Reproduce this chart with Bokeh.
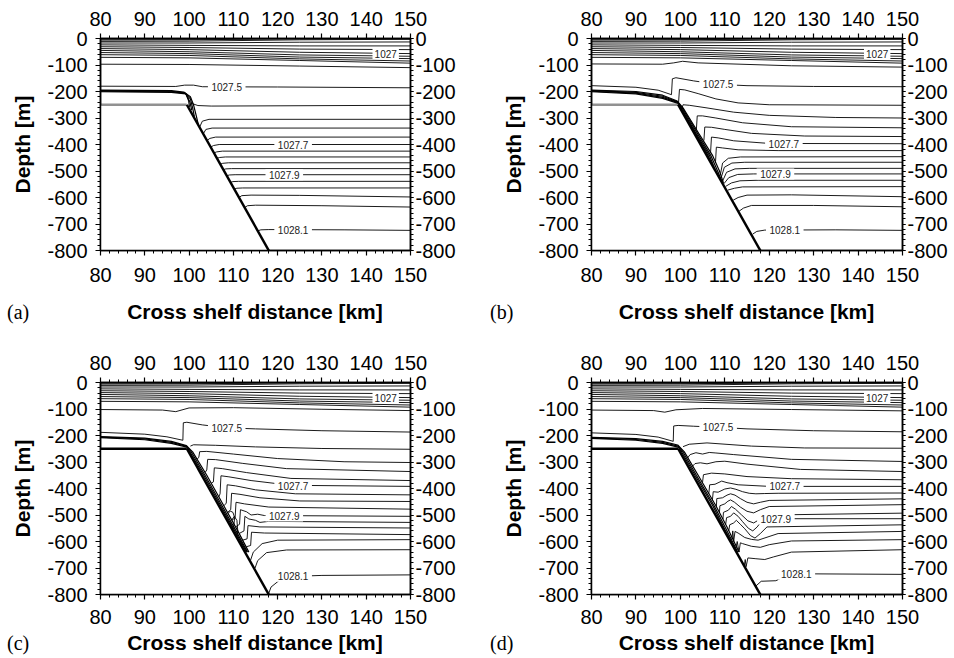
from bokeh.plotting import figure
from bokeh.models import (LinearAxis, SingleIntervalTicker, Range1d, Div, Spacer,
                          PrintfTickFormatter)
from bokeh.layouts import row, column
from bokeh.embed import file_html
from bokeh.resources import INLINE
from bokeh.core.properties import value

# ---------------- data (km, m) ----------------
SLOPE_X = [99.5, 118.0]
SLOPE_Y = [-250, -800]
SHELF_X = [80, 99.5]
SHELF_Y = [-250, -250]
GROUND_X = [80, 99.5, 118.0, 80]
GROUND_Y = [-250, -250, -800, -800]

LABEL_TEXT = ["1027", "1027.5", "1027.7", "1027.9", "1028.1"]
TAGS = ["(a)", "(b)", "(c)", "(d)"]
XLABEL = "Cross shelf distance [km]"
YLABEL = "Depth [m]"

# near-surface isopycnals (same in all panels)
SURF_LINES = [
    ([80, 100, 110, 118], [-2, -2, -1, 0]),
    ([80, 100, 125, 135], [-6, -5, -1, 0]),
    ([80, 100, 125, 150], [-11, -10, -5, -3]),
    ([80, 100, 125, 150], [-17, -17, -14, -13]),
    ([80, 100, 125, 150], [-24, -26, -28, -28]),
    ([80, 100, 125, 150], [-31, -34, -40, -42]),
    ([80, 100, 125, 150], [-38, -42, -52, -57]),
    ([80, 100, 125, 150], [-45, -50, -62, -67]),
    ([80, 100, 125, 150], [-53, -57, -70, -76]),
    ([80, 100, 125, 150], [-61, -64, -77, -85]),
    ([80, 100, 125, 150], [-71, -73, -83, -93]),
]

# ---- panel (a)
A_LINES = [
    ([80, 100, 125, 150], [-97, -98, -104, -110]),
    ([80, 97, 99, 101, 103, 120, 150], [-180, -181, -176, -176, -182, -183, -186]),
    ([100.6, 102, 105, 150], [-245, -253, -255, -252]),
    ([102.36, 103.0, 104.5, 150], [-335, -312, -305, -305]),
    ([103.20, 103.8, 105.2, 150], [-360, -343, -338, -338]),
    ([104.04, 104.7, 106.0, 150], [-385, -377, -372, -372]),
    ([104.88, 105.5, 106.8, 150], [-410, -404, -400, -400]),
    ([105.62, 106.2, 107.5, 150], [-432, -428, -425, -425]),
    ([106.30, 106.9, 108.2, 150], [-452, -449, -447, -447]),
    ([107.04, 107.6, 108.9, 150], [-474, -471, -469, -469]),
    ([107.74, 108.3, 109.6, 150], [-495, -492, -491, -491]),
    ([108.52, 109.1, 110.4, 150], [-518, -515, -514, -514]),
    ([109.36, 109.9, 111.2, 150], [-543, -540, -539, -539]),
    ([110.20, 110.8, 112.1, 150], [-568, -565, -564, -564]),
    ([111.27, 111.9, 114, 125, 150], [-600, -593, -591, -592, -598]),
    ([112.55, 113.2, 115, 130, 150], [-638, -631, -629, -631, -636]),
    ([115.51, 116.2, 118, 135, 150], [-726, -722, -721, -722, -724]),
]
A_BUNDLE = [
    ([80, 96, 98.8, 100.3, 101.0, 101.6, 102.1], [-195, -197, -202, -220, -250, -290, -325]),
    ([80, 96, 99.0, 100.3, 100.8, 101.2], [-197, -199, -205, -228, -262, -295]),
    ([80, 96, 99.2, 100.2, 100.6], [-199, -201, -207, -240, -270]),
    ([80, 96, 99.3, 99.9, 100.1], [-201, -203, -209, -235, -258]),
]
A_LAB_X = [144.4, 108.5, 123.5, 121.5, 123.5]
A_LAB_Y = [-57, -182, -400, -514, -724]

# ---- panel (b)
B_LINES = [
    ([80, 96, 98.5, 100.5, 104, 125, 150], [-96, -97, -92, -86, -92, -103, -108]),
    ([80, 90, 95, 98.0, 98.2, 99.0, 103, 108.5, 115, 130, 150], [-178, -184, -195, -212, -152, -148, -160, -173, -178, -181, -182]),
    ([99.6, 99.8, 101, 104, 108, 113, 120, 150], [-240, -192, -194, -208, -228, -243, -250, -252]),
    ([100.4, 100.6, 102, 106, 112, 120, 135, 150], [-262, -250, -252, -262, -278, -290, -298, -300]),
    ([103.6, 103.8, 105, 108, 114, 125, 150], [-345, -292, -292, -300, -318, -333, -337]),
    ([105.3, 105.5, 107, 110, 116, 128, 150], [-385, -334, -335, -343, -358, -368, -370]),
    ([106.8, 107.0, 108.5, 112, 120, 150], [-430, -372, -375, -386, -396, -397]),
    ([107.9, 108.1, 109.5, 113, 122, 150], [-470, -410, -413, -420, -423, -423]),
    ([109.0, 109.5, 110.8, 113.5, 150], [-515, -470, -452, -447, -446]),
    ([109.2, 109.9, 111.6, 114.5, 150], [-525, -486, -470, -467, -467]),
    ([109.5, 110.4, 112.3, 115.5, 150], [-538, -505, -492, -490, -490]),
    ([109.8, 110.9, 112.9, 116.5, 150], [-548, -525, -513, -511, -511]),
    ([110.2, 111.5, 113.4, 117.5, 150], [-558, -545, -537, -535, -535]),
    ([110.7, 112.2, 114, 150], [-572, -565, -560, -559]),
    ([111.9, 113, 115, 125, 150], [-610, -600, -591, -590, -597]),
    ([113.2, 114.2, 116, 130, 150], [-652, -640, -630, -630, -635]),
    ([116.3, 117.2, 119, 135, 150], [-738, -728, -723, -722, -724]),
]
B_BUNDLE = [
    ([80, 90, 96, 99.3, 100.6, 104.2, 107.2, 108.8, 109.7], [-195, -200, -214, -236, -262, -360, -440, -500, -545]),
    ([80, 90, 96, 99.4, 100.4, 103.9, 106.8, 108.5, 109.5], [-197, -203, -218, -239, -262, -360, -440, -505, -545]),
    ([80, 90, 96, 99.5, 100.2, 103.6, 106.5, 108.2, 109.4], [-199, -206, -222, -242, -262, -360, -440, -510, -545]),
    ([80, 90, 96, 99.5, 100.0, 103.4, 106.2, 108.0, 109.3], [-201, -209, -226, -245, -262, -360, -440, -512, -545]),
]
B_LAB_X = [144.3, 108.5, 123.3, 121.4, 123.5]
B_LAB_Y = [-57, -173, -397, -511, -724]

# ---- panel (c)
C_LINES = [
    ([80, 94, 97, 100, 110, 130, 150], [-102, -104, -110, -96, -95, -101, -106]),
    ([80, 90, 95, 98.6, 98.7, 99.5, 103, 108.5, 115, 130, 150], [-188, -195, -205, -218, -152, -150, -160, -171, -175, -182, -187]),
    ([100.3, 101, 106, 115, 130, 150], [-240, -235, -237, -243, -249, -252]),
    ([101.8, 102.2, 102.4, 104, 110, 120, 135, 150], [-290, -282, -261, -260, -270, -287, -299, -302]),
    ([103.6, 104.0, 104.2, 106, 112, 122, 150], [-340, -330, -290, -291, -305, -325, -336]),
    ([105.0, 105.5, 105.7, 107.5, 113, 123, 150], [-380, -375, -322, -325, -340, -362, -370]),
    ([106.7, 107.0, 107.2, 109, 114, 123, 150], [-432, -420, -352, -356, -370, -388, -392]),
    ([107.9, 108.4, 108.6, 110.5, 115, 124, 150], [-465, -455, -386, -390, -405, -420, -424]),
    ([108.7, 109.4, 109.6, 111.5, 116, 125, 150], [-490, -480, -418, -422, -435, -447, -449]),
    ([109.7, 110.4, 110.6, 112.5, 118, 150], [-520, -510, -452, -458, -470, -478]),
    ([110.5, 111.4, 111.6, 113, 114, 115.5, 117, 150], [-545, -535, -480, -488, -500, -497, -502, -505]),
    ([111.3, 112.4, 112.6, 113.5, 115, 116, 118, 150], [-570, -560, -505, -515, -520, -528, -524, -528]),
    ([112.1, 113.1, 113.3, 116, 150], [-595, -590, -540, -545, -549]),
    ([112.9, 113.9, 114.1, 117, 150], [-620, -615, -565, -568, -574]),
    ([113.9, 114.5, 116.5, 120, 150], [-670, -640, -608, -595, -593]),
    ([114.9, 115.5, 117.5, 122, 150], [-700, -672, -642, -632, -631]),
    ([118.0, 118.5, 120.5, 123, 130, 150], [-795, -772, -745, -732, -728, -726]),
    ([108.8, 109.3, 109.9, 110.3, 110.1, 109.6, 109.3], [-495, -485, -490, -510, -540, -560, -530]),
    ([109.6, 110.2, 110.8, 111.0, 110.6, 110.2], [-520, -505, -520, -560, -590, -570]),
]
C_BUNDLE = [
    ([80, 90, 96, 99.4, 100.8, 104, 108, 111, 113.5], [-204, -210, -222, -238, -262, -350, -470, -560, -640]),
    ([80, 90, 96, 99.5, 100.5, 103.6, 107.6, 110.6, 113.2], [-206, -213, -226, -241, -262, -350, -470, -560, -640]),
    ([80, 90, 96, 99.5, 100.2, 103.3, 107.3, 110.3, 113.0], [-208, -216, -230, -244, -262, -350, -470, -560, -640]),
]
C_LAB_X = [144.4, 108.5, 123.5, 121.5, 123.5]
C_LAB_Y = [-57, -171, -389, -504, -731]

# ---- panel (d)
D_LINES = [
    ([80, 94, 96.5, 99, 105, 125, 150], [-104, -106, -112, -103, -98, -102, -107]),
    ([80, 90, 95, 98.4, 98.5, 99.5, 103, 108.5, 115, 130, 150], [-190, -196, -206, -222, -164, -162, -165, -169, -175, -182, -186]),
    ([100.6, 102, 106, 116, 128, 150], [-242, -233, -228, -240, -247, -248]),
    ([101.6, 102.2, 103.5, 105, 106.5, 108, 112, 125, 150], [-285, -272, -265, -270, -264, -266, -272, -290, -298]),
    ([102.6, 103.3, 104.5, 106, 108, 110, 115, 127, 150], [-318, -306, -303, -307, -299, -297, -308, -328, -336]),
    ([104.9, 105.0, 105.2, 107, 110, 115, 125, 150], [-378, -375, -348, -342, -345, -355, -363, -367]),
    ([106.4, 106.6, 107.8, 109.3, 110.5, 113, 120, 150], [-420, -386, -384, -372, -378, -386, -392, -392]),
    ([107.2, 107.4, 108.5, 110, 111.3, 112.5, 114, 115.5, 117, 119, 122, 150], [-445, -412, -414, -402, -398, -403, -412, -418, -420, -419, -418, -417]),
    ([108.1, 108.2, 109.5, 110.5, 111.3, 112.3, 113.5, 115, 116.5, 118, 120, 150], [-470, -438, -435, -425, -420, -425, -438, -452, -458, -452, -445, -439]),
    ([108.8, 108.9, 110, 110.7, 111.3, 112.2, 113.5, 115, 116.5, 118, 120, 150], [-490, -465, -458, -448, -443, -452, -470, -486, -492, -480, -468, -461]),
    ([109.6, 109.7, 110.8, 111.5, 112.4, 113.8, 115.2, 116.5, 118, 120, 150], [-515, -490, -482, -468, -478, -500, -522, -530, -515, -500, -493]),
    ([110.2, 110.4, 111.3, 112, 113, 114, 115.3, 116.3, 117.3, 118.5, 125, 150], [-535, -510, -505, -492, -505, -525, -550, -560, -545, -518, -514, -514]),
    ([110.9, 111.1, 112, 112.6, 113.5, 114.5, 115.8, 116.8, 118, 119.5, 150], [-560, -537, -530, -520, -535, -552, -578, -587, -570, -545, -537]),
    ([111.6, 111.8, 112.0, 112.3, 113, 114.5, 116, 117.5, 122, 150], [-590, -560, -600, -562, -568, -585, -592, -595, -570, -562]),
    ([112.5, 112.8, 113.2, 113.5, 114, 116, 118, 120, 125, 150], [-625, -600, -640, -605, -608, -618, -622, -612, -598, -593]),
    ([114.4, 114.6, 114.8, 115.2, 117, 119, 121, 125, 150], [-690, -668, -695, -662, -665, -668, -658, -640, -631]),
    ([117.0, 118.2, 121.5, 124, 129, 150], [-768, -750, -748, -728, -722, -724]),
]
D_BUNDLE = [
    ([80, 90, 96, 99.4, 100.9, 104, 108, 110.5, 113.2], [-207, -212, -222, -236, -262, -350, -465, -545, -640]),
    ([80, 90, 96, 99.5, 100.6, 103.6, 107.6, 110.2, 112.9], [-209, -215, -226, -240, -262, -350, -465, -550, -640]),
    ([80, 90, 96, 99.5, 100.3, 103.3, 107.3, 110.0, 112.7], [-211, -218, -230, -244, -262, -350, -465, -555, -640]),
]
D_LAB_X = [144.3, 108.5, 123.5, 121.5, 126.1]
D_LAB_Y = [-57, -169, -392, -515, -724]

FONT = "Liberation Sans"


def style_axis(ax, standoff, tick_out=5):
    ax.major_label_text_font = FONT
    ax.major_label_text_font_size = "20px"
    ax.major_label_text_color = "black"
    ax.axis_line_color = "black"
    ax.axis_line_width = 1.5
    ax.major_tick_line_color = "black"
    ax.minor_tick_line_color = "black"
    ax.major_tick_line_width = 1.2
    ax.minor_tick_line_width = 1
    ax.major_tick_in = 0
    ax.major_tick_out = tick_out
    ax.minor_tick_in = 0
    ax.minor_tick_out = 3
    ax.major_label_standoff = standoff
    ax.formatter = PrintfTickFormatter(format="%d")


def panel(lines, bundle, lab_x, lab_y, solid_shelf, left_b, right_b, frame_w,
          top_b, bottom_b, bottom_standoff):
    p = figure(frame_width=frame_w, frame_height=212,
               x_range=Range1d(80, 150), y_range=Range1d(-800, 0),
               output_backend="svg", toolbar_location=None,
               min_border_left=left_b, min_border_right=right_b,
               min_border_top=top_b, min_border_bottom=bottom_b,
               background_fill_color="white", border_fill_color="white",
               outline_line_color="black", outline_line_width=1.5)
    p.grid.visible = False
    p.xaxis.ticker = SingleIntervalTicker(interval=10, num_minor_ticks=5)
    p.yaxis.ticker = SingleIntervalTicker(interval=100, num_minor_ticks=5)
    style_axis(p.xaxis[0], bottom_standoff)
    style_axis(p.yaxis[0], 8)
    p.yaxis[0].axis_label = YLABEL
    p.yaxis[0].axis_label_text_font = FONT
    p.yaxis[0].axis_label_text_font_style = "bold"
    p.yaxis[0].axis_label_text_font_size = "21px"
    p.yaxis[0].axis_label_text_color = "black"
    p.yaxis[0].axis_label_standoff = 10
    top = LinearAxis(ticker=SingleIntervalTicker(interval=10, num_minor_ticks=5))
    style_axis(top, 8)
    p.add_layout(top, "above")
    right = LinearAxis(ticker=SingleIntervalTicker(interval=100, num_minor_ticks=5))
    style_axis(right, 2, tick_out=3)
    p.add_layout(right, "right")

    all_lines = SURF_LINES + lines
    p.multi_line([l[0] for l in all_lines], [l[1] for l in all_lines],
                 line_color="black", line_width=0.9)
    p.multi_line([l[0] for l in bundle], [l[1] for l in bundle],
                 line_color="black", line_width=1.2)
    p.patch(GROUND_X, GROUND_Y, fill_color="white", line_color=None)
    if solid_shelf:
        p.line(SHELF_X, SHELF_Y, line_color="black", line_width=2.5)
    else:
        p.line(SHELF_X, SHELF_Y, line_color="#222222", line_width=2.5, line_dash="1 1")
    p.line(SLOPE_X, SLOPE_Y, line_color="black", line_width=2.5)

    widths = [len(t) * 5.6 + 4 for t in LABEL_TEXT]
    p.rect(lab_x, lab_y, width=widths, height=11, width_units="screen",
           height_units="screen", fill_color="white", line_color=None)
    p.text(lab_x, lab_y, text=LABEL_TEXT, text_font=value(FONT),
           text_font_size=value("10px"), text_align="center",
           text_baseline="middle", text_color="#222222")
    return p


def caption_row(tag_l, tag_r, h, lh):
    tag_style = {"font-family": "Liberation Serif", "font-size": "20px",
                 "line-height": lh, "color": "black"}
    lab_style = {"font-family": FONT, "font-size": "21px", "font-weight": "bold",
                 "line-height": lh, "text-align": "center", "color": "black"}
    return row(
        Spacer(width=7, height=h, margin=0),
        Div(text=tag_l, width=93, height=h, margin=0, styles=tag_style),
        Div(text=XLABEL, width=310, height=h, margin=0, styles=lab_style),
        Spacer(width=80, height=h, margin=0),
        Div(text=tag_r, width=101, height=h, margin=0, styles=tag_style),
        Div(text=XLABEL, width=311, height=h, margin=0, styles=lab_style),
    )


pa = panel(A_LINES, A_BUNDLE, A_LAB_X, A_LAB_Y, False, 100, 85, 310, 38, 44, 12)
pb = panel(B_LINES, B_BUNDLE, B_LAB_X, B_LAB_Y, False, 96, 48, 311, 38, 44, 12)
pc = panel(C_LINES, C_BUNDLE, C_LAB_X, C_LAB_Y, True, 100, 85, 310, 44, 38, 10)
pd = panel(D_LINES, D_BUNDLE, D_LAB_X, D_LAB_Y, True, 96, 48, 311, 44, 38, 10)

layout = column(row(pa, pb), caption_row(TAGS[0], TAGS[1], 44, "36px"),
                row(pc, pd), caption_row(TAGS[2], TAGS[3], 22, "22px"))
open("out.html", "w").write(file_html(layout, INLINE))
